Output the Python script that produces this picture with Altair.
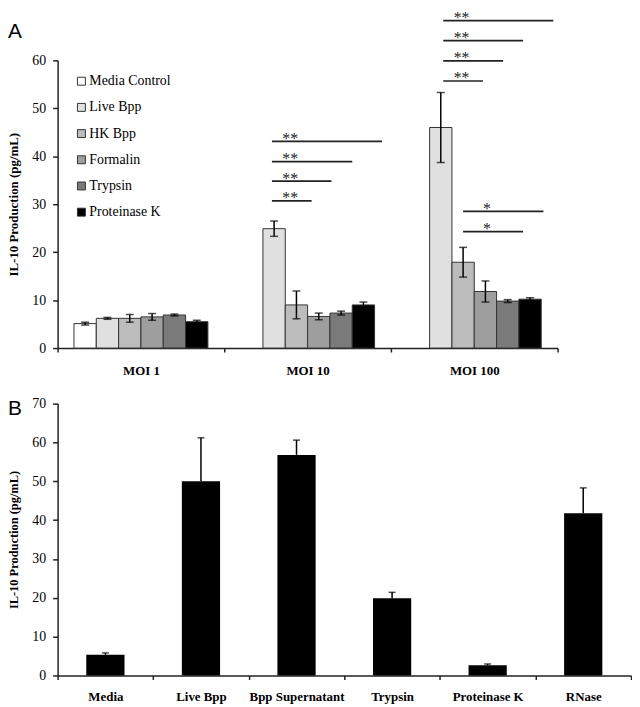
import altair as alt
import pandas as pd

# ---------------- Panel A data ----------------
series = ["Media Control", "Live Bpp", "HK Bpp", "Formalin", "Trypsin", "Proteinase K"]
grays = ["#ffffff", "#e0e0e0", "#bcbcbc", "#9e9e9e", "#7a7a7a", "#000000"]
moi = ["MOI 1", "MOI 10", "MOI 100"]
moi1_vals = [5.1, 6.2, 6.2, 6.5, 6.9, 5.5]
moi1_err = [0.3, 0.2, 0.8, 0.7, 0.2, 0.3]
moi10_vals = [None, 24.9, 9.0, 6.6, 7.3, 9.0]
moi10_err = [None, 1.6, 2.9, 0.7, 0.4, 0.6]
moi100_vals = [None, 46.0, 17.9, 11.8, 9.8, 10.2]
moi100_err = [None, 7.3, 3.1, 2.2, 0.3, 0.3]

# significance brackets (x in category units, MOI 1 = 0, MOI 10 = 1, MOI 100 = 2)
sig_x1 = [0.786, 0.786, 0.786, 0.786, 1.814, 1.814, 1.814, 1.814, 1.933, 1.933]
sig_x2 = [1.024, 1.143, 1.268, 1.446, 2.052, 2.173, 2.293, 2.474, 2.293, 2.415]
sig_y = [30.7, 34.8, 38.9, 43.1, 55.7, 59.9, 64.1, 68.3, 24.3, 28.5]
sig_label = ["**", "**", "**", "**", "**", "**", "**", "**", "*", "*"]
sig_tx = [0.896, 0.896, 0.896, 0.896, 1.924, 1.924, 1.924, 1.924, 2.076, 2.076]

# ---------------- Panel B data ----------------
cats_b = ["Media", "Live Bpp", "Bpp Supernatant", "Trypsin", "Proteinase K", "RNase"]
vals_b = [5.3, 50.0, 56.8, 19.9, 2.6, 41.8]
err_b = [0.5, 11.2, 3.8, 1.5, 0.35, 6.5]

SERIF = "Liberation Serif"
SANS = "Liberation Sans"
AX = "#222222"

rows = []
for m, vals, errs in zip(moi, [moi1_vals, moi10_vals, moi100_vals],
                         [moi1_err, moi10_err, moi100_err]):
    for s, v, e in zip(series, vals, errs):
        if v is None:
            continue
        rows.append({"moi": m, "series": s, "value": v, "lo": v - e, "hi": v + e})
dfA = pd.DataFrame(rows)
caps_rows = []
for r in rows:
    caps_rows.append({"moi": r["moi"], "series": r["series"], "cap": r["lo"]})
    caps_rows.append({"moi": r["moi"], "series": r["series"], "cap": r["hi"]})
dfA_caps = pd.DataFrame(caps_rows)
dfSig = pd.DataFrame({"x1": sig_x1, "x2": sig_x2, "y": sig_y,
                      "label": sig_label, "tx": sig_tx})


def x_axis(pad):
    return alt.Axis(title=None, labelAngle=0, labelFont=SERIF, labelFontWeight="bold",
                    labelFontSize=13, labelColor="black", tickBand="extent",
                    tickSize=4, tickColor=AX, tickWidth=1.5, labelPadding=pad,
                    domainColor=AX, domainWidth=1.5, grid=False)


def y_axis(vals, size):
    return alt.Axis(values=vals, title="IL-10 Production (pg/mL)",
                    titleFont=SERIF, titleFontWeight="bold", titleFontSize=size,
                    titleColor="black", labelFont=SERIF, labelFontSize=14,
                    labelColor="black", tickSize=5, tickColor=AX, tickWidth=1.5,
                    domainColor=AX, domainWidth=1.5, grid=False, labelPadding=7,
                    titlePadding=11, labelOverlap=False)


xA = alt.X("moi:N", scale=alt.Scale(domain=moi, paddingInner=0, paddingOuter=0),
           axis=x_axis(13))
xoff = alt.XOffset("series:N", scale=alt.Scale(domain=series, paddingInner=0,
                                                paddingOuter=0.733))
yA_scale = alt.Scale(domain=[0, 60], nice=False)
yA_axis = y_axis([0, 10, 20, 30, 40, 50, 60], 13)

bars = alt.Chart(dfA).mark_bar(stroke="#333333", strokeWidth=1).encode(
    x=xA, xOffset=xoff,
    y=alt.Y("value:Q", scale=yA_scale, axis=yA_axis),
    color=alt.Color("series:N", scale=alt.Scale(domain=series, range=grays),
                    legend=alt.Legend(title=None, orient="none", legendX=17, legendY=14,
                                      symbolType="square", symbolSize=64,
                                      symbolStrokeColor="#333333", symbolStrokeWidth=1,
                                      labelFont=SERIF, labelFontSize=14,
                                      labelColor="black", rowPadding=12.4,
                                      labelOffset=1, padding=0)),
)
errs = alt.Chart(dfA).mark_rule(color="black", strokeWidth=1.5).encode(
    x=xA, xOffset=xoff, y=alt.Y("lo:Q", scale=yA_scale, axis=yA_axis), y2="hi:Q")
caps = alt.Chart(dfA_caps).mark_tick(color="black", thickness=1.5, size=8).encode(
    x=xA, xOffset=xoff, y=alt.Y("cap:Q", scale=yA_scale, axis=yA_axis))

barsA = alt.layer(bars, errs, caps)

xq = alt.Scale(domain=[-0.5, 2.5], nice=False, zero=False)
sig_lines = alt.Chart(dfSig).mark_rule(color=AX, strokeWidth=1.7).encode(
    x=alt.X("x1:Q", scale=xq, axis=None), x2="x2:Q",
    y=alt.Y("y:Q", scale=yA_scale, axis=yA_axis))
sig_text = alt.Chart(dfSig).mark_text(font=SERIF, fontSize=16, color="#222222",
                                      baseline="alphabetic", dy=2.5).encode(
    x=alt.X("tx:Q", scale=xq, axis=None),
    y=alt.Y("y:Q", scale=yA_scale, axis=yA_axis), text="label:N")
letterA = alt.Chart(pd.DataFrame({"t": ["A"]})).mark_text(
    font=SANS, fontSize=21, align="left", baseline="alphabetic", color="black").encode(
    x=alt.value(-50), y=alt.value(-23), text="t:N")

chartA = alt.layer(barsA, sig_lines, sig_text, letterA).resolve_scale(
    x="independent").properties(width=504, height=290)

# ---------------- Panel B ----------------
dfB = pd.DataFrame({"cat": cats_b, "value": vals_b,
                    "hi": [v + e for v, e in zip(vals_b, err_b)]})
xB = alt.X("cat:N", sort=cats_b,
           scale=alt.Scale(domain=cats_b, paddingInner=0, paddingOuter=0),
           axis=x_axis(11))
yB_scale = alt.Scale(domain=[0, 70], nice=False)
yB_axis = y_axis([0, 10, 20, 30, 40, 50, 60, 70], 12.5)
barsB = alt.Chart(dfB).mark_bar(color="black", width=alt.RelativeBandSize(0.4)).encode(
    x=xB, y=alt.Y("value:Q", scale=yB_scale, axis=yB_axis))
errB = alt.Chart(dfB).mark_rule(color="black", strokeWidth=1.5).encode(
    x=xB, y=alt.Y("value:Q", scale=yB_scale, axis=yB_axis), y2="hi:Q")
capB = alt.Chart(dfB).mark_tick(color="black", thickness=1.5, size=7).encode(
    x=xB, y=alt.Y("hi:Q", scale=yB_scale, axis=yB_axis))
letterB = alt.Chart(pd.DataFrame({"t": ["B"]})).mark_text(
    font=SANS, fontSize=21, align="left", baseline="alphabetic", color="black").encode(
    x=alt.value(-50), y=alt.value(11), text="t:N")
chartB = alt.layer(barsB, errB, capB, letterB).properties(width=578, height=274)

chart = alt.vconcat(chartA, chartB, spacing=19).properties(
    padding={"top": -1, "left": 0, "right": 0, "bottom": 0}, background="white"
).configure_view(stroke=None).configure_legend(labelFont=SERIF)

chart.save("out.html", embed_options={"renderer": "svg", "actions": False})
